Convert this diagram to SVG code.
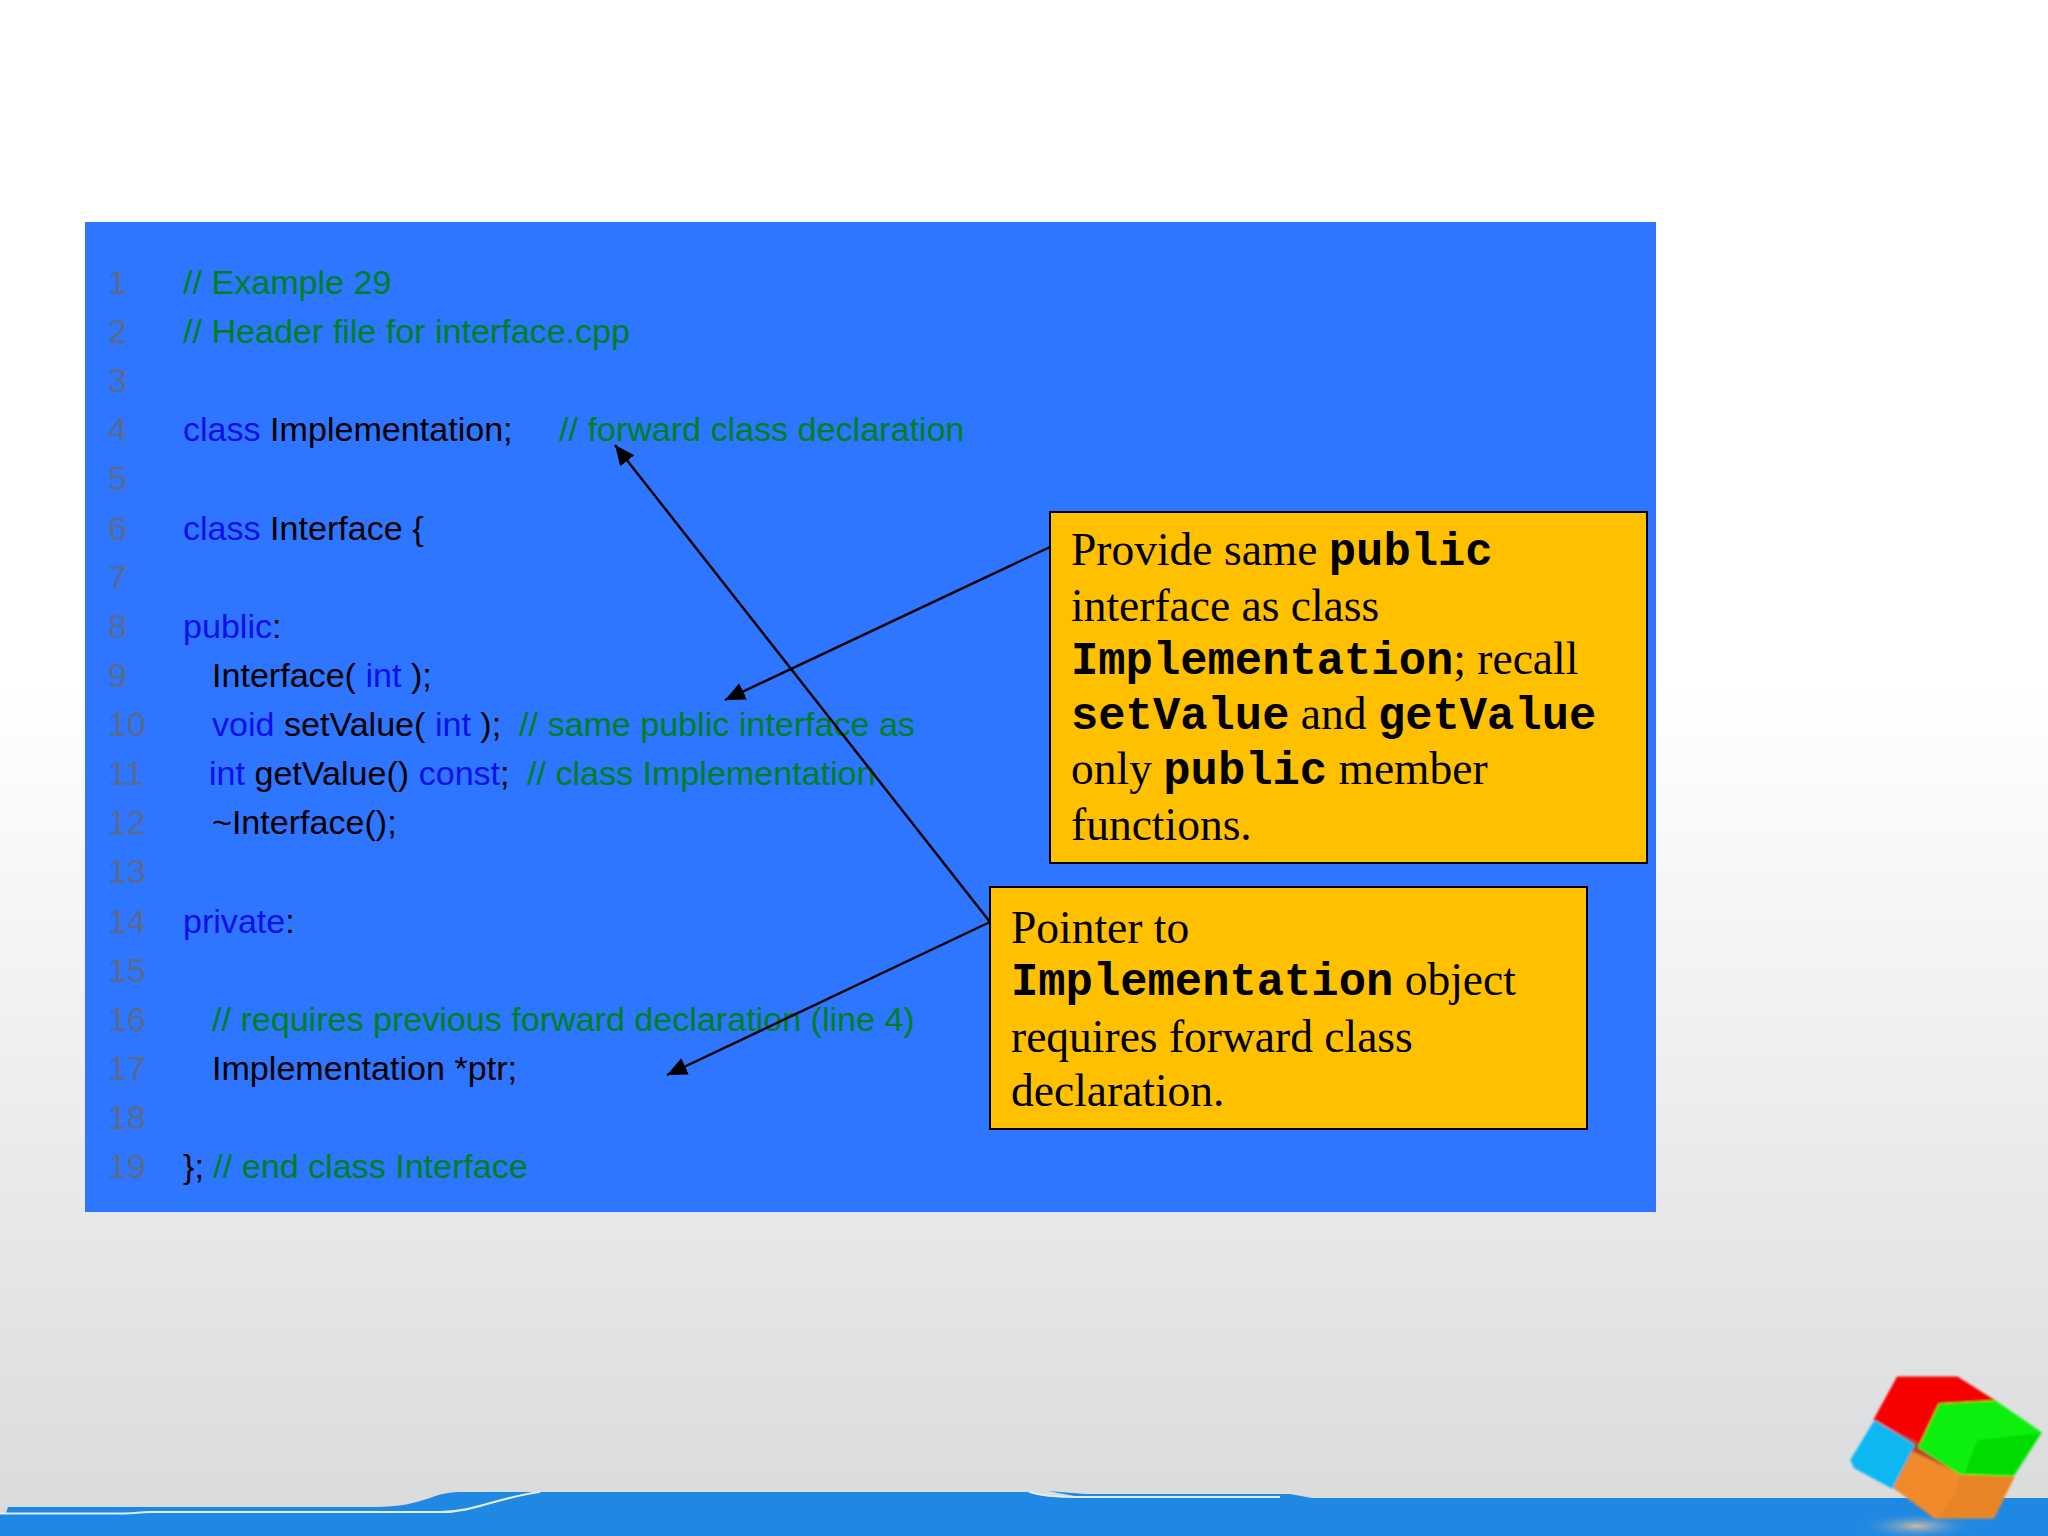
<svg xmlns="http://www.w3.org/2000/svg" width="2048" height="1536" viewBox="0 0 2048 1536">
<style>
.c{font-family:"Liberation Sans",Arial,sans-serif;font-size:34.1px;fill:#000}
.n{font-family:"Liberation Sans",Arial,sans-serif;font-size:34.1px;fill:#5a6a8c}
.k{fill:#0f0fe6}
.g{fill:#008020}
.t{font-family:"Liberation Serif","Times New Roman",serif;font-size:45.5px;fill:#000}
.m{font-family:"Liberation Mono","Courier New",monospace;font-size:45.5px;font-weight:bold}
.box{fill:#ffc000;stroke:#000;stroke-width:2}
.a{stroke:#000;stroke-width:2.4;fill:none;marker-end:url(#ah)}
</style>
<defs>
<linearGradient id="bg" x1="0" y1="0" x2="0" y2="1">
<stop offset="0" stop-color="#ffffff"/><stop offset="0.45" stop-color="#ffffff"/><stop offset="1" stop-color="#d9dadc"/>
</linearGradient>
<radialGradient id="sh">
<stop offset="0" stop-color="#cdbba6"/><stop offset="1" stop-color="#1f88e2" stop-opacity="0"/>
</radialGradient>
<filter id="soft" x="-5%" y="-5%" width="110%" height="110%"><feGaussianBlur stdDeviation="0.9"/></filter>
<marker id="ah" markerUnits="userSpaceOnUse" markerWidth="22" markerHeight="20" refX="20" refY="9" orient="auto">
<path d="M0 0L20 9L0 18Z" fill="#000"/>
</marker>
</defs>
<rect width="2048" height="1536" fill="url(#bg)"/>
<g id="footer-band">
<path d="M8 1507H375C400 1507 415 1503 430 1498C445 1492 455 1492 470 1492H1027C1045 1497 1065 1498 1090 1498H2048V1536H0V1514L6 1513Z" fill="#1f88e2"/>
<path d="M1048 1491L1085 1494H1290L1312 1498H1085Z" fill="#1f88e2"/>
<path d="M0 1513.5H125C135 1513.5 140 1512 150 1512H440C475 1512 495 1498 540 1492" fill="none" stroke="#e4ecf2" stroke-width="2.2"/>
<path d="M1030 1492C1045 1497 1065 1497 1090 1497H1280" fill="none" stroke="#e4ecf2" stroke-width="2"/>
<ellipse cx="1917" cy="1526" rx="60" ry="14" fill="url(#sh)"/>
</g>
<g id="cube-logo" filter="url(#soft)">
<path d="M1898 1378H1957L1995 1402L2040 1433L2013 1477L1993 1517H1935L1892 1487L1852 1460L1875 1420Z" fill="#b04a30"/>
<path d="M1898 1378L1957 1378L1995 1402L1940 1405L1920 1442L1875 1420Z" fill="#f60000" stroke="#f60000" stroke-width="3" stroke-linejoin="round"/>
<path d="M1875 1422L1913 1445L1892 1487L1855 1467L1852 1460Z" fill="#0cb8f2" stroke="#0cb8f2" stroke-width="3" stroke-linejoin="round"/>
<path d="M1913 1453L1960 1475L2013 1477L1993 1517L1935 1517L1895 1487Z" fill="#f08a2c" stroke="#f08a2c" stroke-width="3" stroke-linejoin="round"/>
<path d="M1960 1475L2013 1477L1993 1517L1938 1517L1955 1495Z" fill="#e88428"/>
<path d="M1940 1405L1995 1402L2040 1433L2013 1475L1960 1473L1920 1447Z" fill="#0ef00e" stroke="#0ef00e" stroke-width="3" stroke-linejoin="round"/>
<path d="M1977 1440L2040 1433L2013 1475L1965 1473Z" fill="#05dc05"/>
</g>
<rect id="code-panel" x="85" y="222" width="1571" height="990" fill="#2e75ff"/>
<g id="code">
<text class="n" x="108" y="294">1</text><text class="c" x="183" y="294"><tspan class="g">// Example 29</tspan></text>
<text class="n" x="108" y="343">2</text><text class="c" x="183" y="343"><tspan class="g">// Header file for interface.cpp</tspan></text>
<text class="n" x="108" y="392">3</text>
<text class="n" x="108" y="441">4</text><text class="c" x="183" y="441"><tspan class="k">class</tspan> Implementation;<tspan class="g" x="559">// forward class declaration</tspan></text>
<text class="n" x="108" y="490">5</text>
<text class="n" x="108" y="540">6</text><text class="c" x="183" y="540"><tspan class="k">class</tspan> Interface {</text>
<text class="n" x="108" y="589">7</text>
<text class="n" x="108" y="638">8</text><text class="c" x="183" y="638"><tspan class="k">public</tspan>:</text>
<text class="n" x="108" y="687">9</text><text class="c" x="212" y="687">Interface( <tspan class="k">int</tspan> );</text>
<text class="n" x="108" y="736">10</text><text class="c" x="212" y="736"><tspan class="k">void</tspan> setValue( <tspan class="k">int</tspan> );<tspan class="g" x="519">// same public interface as</tspan></text>
<text class="n" x="108" y="785">11</text><text class="c" x="209" y="785"><tspan class="k">int</tspan> getValue() <tspan class="k">const</tspan>;<tspan class="g" x="527">// class Implementation</tspan></text>
<text class="n" x="108" y="834">12</text><text class="c" x="212" y="834">~Interface();</text>
<text class="n" x="108" y="883">13</text>
<text class="n" x="108" y="933">14</text><text class="c" x="183" y="933"><tspan class="k">private</tspan>:</text>
<text class="n" x="108" y="982">15</text>
<text class="n" x="108" y="1031">16</text><text class="c" x="212" y="1031"><tspan class="g">// requires previous forward declaration (line 4)</tspan></text>
<text class="n" x="108" y="1080">17</text><text class="c" x="212" y="1080">Implementation *ptr;</text>
<text class="n" x="108" y="1129">18</text>
<text class="n" x="108" y="1178">19</text><text class="c" x="183" y="1178">}; <tspan class="g">// end class Interface</tspan></text>
</g>
<g id="connectors">
<line class="a" x1="1050" y1="547" x2="725" y2="700"/>
<line class="a" x1="990" y1="922" x2="615" y2="445"/>
<line class="a" x1="990" y1="922" x2="667" y2="1075"/>
</g>
<g id="note-public">
<rect class="box" x="1050" y="512" width="597" height="351"/>
<text class="t" x="1071" y="565">Provide same <tspan class="m">public</tspan></text>
<text class="t" x="1071" y="621">interface as class</text>
<text class="t" x="1071" y="674"><tspan class="m">Implementation</tspan>; recall</text>
<text class="t" x="1071" y="729"><tspan class="m">setValue</tspan> and <tspan class="m">getValue</tspan></text>
<text class="t" x="1071" y="784">only <tspan class="m">public</tspan> member</text>
<text class="t" x="1071" y="840">functions.</text>
</g>
<g id="note-pointer">
<rect class="box" x="990" y="887" width="597" height="242"/>
<text class="t" x="1011" y="943">Pointer to</text>
<text class="t" x="1011" y="995"><tspan class="m">Implementation</tspan> object</text>
<text class="t" x="1011" y="1052">requires forward class</text>
<text class="t" x="1011" y="1106">declaration.</text>
</g>
</svg>
